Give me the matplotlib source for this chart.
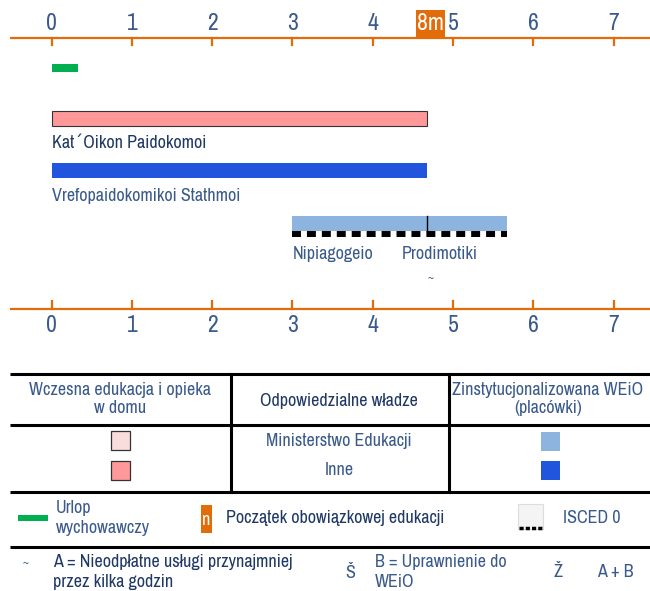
import matplotlib
matplotlib.use("Agg")
import matplotlib.pyplot as plt
from matplotlib.patches import Rectangle
from matplotlib import font_manager

# ---------------- data ----------------
ages = [0, 1, 2, 3, 4, 5, 6, 7]
leave_end = 0.33
home_label = "Kat΄Oikon Paidokomoi"
home_range = (0.0, 4.67)
creche_label = "Vrefopaidokomikoi Stathmoi"
creche_range = (0.0, 4.67)
isced_range = (3.0, 5.67)
isced_split = 4.67
isced_labels = ["Nipiagogeio", "Prodimotiki"]
compulsory_age = 4.67
compulsory_label = "8m"

# ---------------- style ----------------
fams = set(f.name for f in font_manager.fontManager.ttflist)
narrow = next((n for n in ["Archivo Narrow", "PT Sans Narrow", "Roboto Condensed",
                           "Liberation Sans"] if n in fams), "DejaVu Sans")
plt.rcParams['font.family'] = [narrow, 'DejaVu Sans']

ORANGE = "#e36c0a"
TXT = "#3a5a8c"
DTXT = "#1f3864"
PINK = "#ff9999"
LPINK = "#f9dcdc"
LBLUE = "#8db3df"
BLUE = "#2255dd"
GREEN = "#00b050"
FS = 13

W, H = 650, 591
fig = plt.figure(figsize=(W / 100, H / 100), dpi=100)

# pixel mapping for the age axis
x0px, unit = 51.5, 80.3
ax = fig.add_axes([0, 0, 1, 1])
ax.set_xlim(-x0px / unit, (W - x0px) / unit)
ax.set_ylim(H, 0)
ax.axis("off")
xl = (10 - x0px) / unit
xr = (W - x0px) / unit

# top axis
ax.plot([xl, xr], [38, 38], color=ORANGE, lw=1.6, solid_capstyle="butt")
for a in ages:
    ax.plot([a, a], [38, 45], color=ORANGE, lw=1.6)
    ax.text(a, 23, str(a), ha="center", va="center", fontsize=17, color=TXT)
# compulsory education marker
ax.bar(compulsory_age + 0.05, 27, width=0.36, bottom=10, color=ORANGE, align="center")
ax.text(compulsory_age + 0.05, 23, compulsory_label, ha="center", va="center",
        fontsize=17, color="white")

# bottom axis
ax.plot([xl, xr], [309, 309], color=ORANGE, lw=1.6, solid_capstyle="butt")
for a in ages:
    ax.plot([a, a], [301, 309], color=ORANGE, lw=1.6)
    ax.text(a, 326, str(a), ha="center", va="center", fontsize=17, color=TXT)

# parental leave
ax.barh(68, leave_end, left=0, height=8, color=GREEN)
# home-based
ax.barh(118.5, home_range[1] - home_range[0], left=home_range[0], height=15,
        color=PINK, edgecolor="#333333", linewidth=0.8)
ax.text(home_range[0], 143, home_label, ha="left", va="center", fontsize=FS, color=DTXT)
# creche
ax.barh(170.5, creche_range[1] - creche_range[0], left=creche_range[0], height=15,
        color=BLUE)
ax.text(creche_range[0], 196, creche_label, ha="left", va="center", fontsize=FS, color=TXT)
# ISCED
ax.barh(223.5, isced_range[1] - isced_range[0], left=isced_range[0], height=15,
        color=LBLUE)
ax.plot([isced_split, isced_split], [216, 231], color="black", lw=1)
ax.plot([isced_range[0], isced_range[1]], [234, 234], color="black", lw=4.3,
        linestyle=(0, (1.5, 1.0)), solid_capstyle="butt", dash_capstyle="butt")
ax.text(isced_range[0], 254, isced_labels[0], ha="left", va="center", fontsize=FS, color=TXT)
ax.text(isced_split - 0.31, 254, isced_labels[1], ha="left", va="center", fontsize=FS, color=TXT)
ax.text(isced_split + 0.05, 279, "~", ha="center", va="center", fontsize=9, color=TXT)

# ---------------- table / legend in pixel coords ----------------
lx = fig.add_axes([0, 0, 1, 1])
lx.set_xlim(0, W)
lx.set_ylim(H, 0)
lx.axis("off")
lx.patch.set_alpha(0)

def hline(y, lw=2.2):
    lx.plot([10, W], [y, y], color="black", lw=lw, solid_capstyle="butt")

hline(374)
hline(425)
hline(491.5)
hline(546.5)
for xv in (230.5, 448.5):
    lx.plot([xv, xv], [374, 491.5], color="black", lw=2.2)

lx.text(120, 399, "Wczesna edukacja i opieka\nw domu", ha="center", va="center",
        fontsize=FS, color=TXT, linespacing=1.15)
lx.text(339, 401, "Odpowiedzialne władze", ha="center", va="center",
        fontsize=FS, color=DTXT)
lx.text(548, 399, "Zinstytucjonalizowana WEiO\n(placówki)", ha="center", va="center",
        fontsize=FS, color=TXT, linespacing=1.15)
lx.text(339, 441, "Ministerstwo Edukacji", ha="center", va="center", fontsize=FS, color=TXT)
lx.text(339, 470, "Inne", ha="center", va="center", fontsize=FS, color=TXT)
lx.add_patch(Rectangle((111, 431), 19, 19, facecolor=LPINK, edgecolor="#333333", lw=0.9))
lx.add_patch(Rectangle((111, 461), 19, 19, facecolor=PINK, edgecolor="#333333", lw=0.9))
lx.add_patch(Rectangle((541, 432), 19, 19, facecolor=LBLUE, edgecolor="none"))
lx.add_patch(Rectangle((541, 461), 19, 19, facecolor=BLUE, edgecolor="none"))

# legend row
lx.add_patch(Rectangle((18, 514.5), 30, 6, facecolor=GREEN, edgecolor="none"))
lx.text(56, 518, "Urlop\nwychowawczy", ha="left", va="center", fontsize=FS,
        color=TXT, linespacing=1.3)
lx.add_patch(Rectangle((201, 505), 11, 28, facecolor=ORANGE, edgecolor="none"))
lx.text(206.5, 520, "n", ha="center", va="center", fontsize=FS, color="white")
lx.text(226, 518, "Początek obowiązkowej edukacji", ha="left", va="center",
        fontsize=FS, color=DTXT)
lx.add_patch(Rectangle((518, 504), 25, 25, facecolor="#f4f4f4", edgecolor="#dddddd", lw=0.8))
lx.plot([519, 542], [528, 528], color="black", lw=2.5, linestyle=(0, (1.2, 0.6)))
lx.text(563, 518, "ISCED 0", ha="left", va="center", fontsize=FS, color=TXT)

# bottom row
lx.text(26, 564, "~", ha="center", va="center", fontsize=9, color=TXT)
lx.text(53, 572, "A = Nieodpłatne usługi przynajmniej\nprzez kilka godzin", ha="left",
        va="center", fontsize=FS, color=DTXT, linespacing=1.3)
lx.text(350, 573, "Š", ha="center", va="center", fontsize=FS, color=TXT)
lx.text(375, 572, "B = Uprawnienie do\nWEiO", ha="left", va="center", fontsize=FS,
        color=TXT, linespacing=1.3)
lx.text(558, 572, "Ž", ha="center", va="center", fontsize=FS, color=TXT)
lx.text(597, 572, "A + B", ha="left", va="center", fontsize=FS, color=TXT)

fig.savefig("out.png", dpi=100)
